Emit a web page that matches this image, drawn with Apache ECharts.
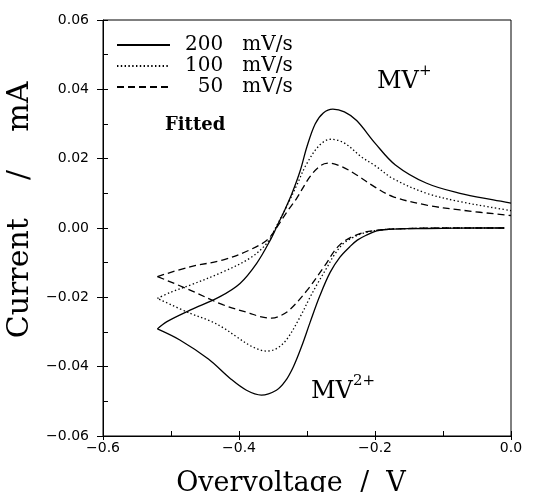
<!DOCTYPE html>
<html><head><meta charset="utf-8">
<script src="https://cdn.jsdelivr.net/npm/echarts@6/dist/echarts.min.js"></script>
<style>html,body{margin:0;padding:0;background:#fff}#c{width:534px;height:492px}</style>
</head><body><div id="c"></div>
<script>
// ---- data (Overvoltage / V, Current / mA) ----
const rateNames = ['200\u00a0\u00a0\u00a0mV/s', '100\u00a0\u00a0\u00a0mV/s', '\u00a0\u00a050\u00a0\u00a0\u00a0mV/s'];

const scan200Forward = [[-0.01,0],[-0.05,0],[-0.10,-0.0001],[-0.15,-0.0002],[-0.18,-0.0004],[-0.1975,-0.0008],[-0.212,-0.002],[-0.226,-0.0035],[-0.237,-0.0054],[-0.2515,-0.0084],[-0.266,-0.0128],[-0.281,-0.0195],[-0.2956,-0.0273],[-0.308,-0.0342],[-0.32,-0.0400],[-0.332,-0.0442],[-0.345,-0.0468],[-0.367,-0.0482],[-0.389,-0.0468],[-0.413,-0.0434],[-0.445,-0.0378],[-0.487,-0.0323],[-0.52,-0.0291]];
const scan200Return = [[-0.52,-0.0291],[-0.506,-0.027],[-0.472,-0.0237],[-0.428,-0.0198],[-0.3985,-0.016],[-0.374,-0.0102],[-0.354,-0.0035],[-0.343,0.001],[-0.332,0.0055],[-0.322,0.0100],[-0.31,0.0165],[-0.30,0.0235],[-0.288,0.0300],[-0.276,0.0332],[-0.262,0.0343],[-0.245,0.0335],[-0.227,0.031],[-0.2,0.0245],[-0.17,0.0182],[-0.124,0.0129],[-0.075,0.0100],[-0.026,0.0081],[0,0.0072]];

const scan100Forward = [[-0.01,0],[-0.1,0],[-0.16,-0.0002],[-0.19,-0.0005],[-0.217,-0.0015],[-0.232,-0.0027],[-0.2466,-0.0045],[-0.26,-0.0078],[-0.271,-0.0115],[-0.285,-0.0162],[-0.2956,-0.0200],[-0.31,-0.0256],[-0.33,-0.0322],[-0.345,-0.0348],[-0.359,-0.0355],[-0.38,-0.0343],[-0.4034,-0.0314],[-0.423,-0.0288],[-0.4426,-0.0268],[-0.472,-0.0246],[-0.52,-0.0203]];
const scan100Return = [[-0.52,-0.0203],[-0.50,-0.0185],[-0.472,-0.0165],[-0.423,-0.0126],[-0.384,-0.0087],[-0.359,-0.0044],[-0.345,0.0005],[-0.33,0.0062],[-0.3154,0.0122],[-0.3005,0.0185],[-0.281,0.0240],[-0.265,0.0256],[-0.245,0.0245],[-0.22,0.0205],[-0.2,0.018],[-0.173,0.0142],[-0.124,0.0100],[-0.075,0.0076],[-0.03,0.006],[0,0.005]];

const scan50Forward = [[-0.01,0],[-0.1,0],[-0.16,-0.0002],[-0.19,-0.0005],[-0.222,-0.0016],[-0.2515,-0.0048],[-0.275,-0.0112],[-0.30,-0.0180],[-0.325,-0.0235],[-0.34,-0.0254],[-0.352,-0.026],[-0.37,-0.0255],[-0.384,-0.0246],[-0.423,-0.0222],[-0.472,-0.0179],[-0.52,-0.014]];
const scan50Return = [[-0.52,-0.014],[-0.472,-0.0112],[-0.423,-0.0092],[-0.384,-0.0063],[-0.359,-0.0035],[-0.345,0.0],[-0.33,0.0045],[-0.3154,0.0085],[-0.2956,0.0148],[-0.28,0.0180],[-0.268,0.0187],[-0.25,0.0178],[-0.227,0.0153],[-0.2,0.0118],[-0.173,0.009],[-0.124,0.0066],[-0.075,0.0052],[0,0.0036]];

const xTickLabels = {'-6':'\u22120.6','-4':'\u22120.4','-2':'\u22120.2','0':'0.0'};
const yTickLabels = {'6':'0.06','4':'0.04','2':'0.02','0':'0.00','-2':'\u22120.02','-4':'\u22120.04','-6':'\u22120.06'};

const lineTypes = ['solid', [1.4, 2.4], [7, 4]];
const branches = [[scan200Forward, scan200Return],[scan100Forward, scan100Return],[scan50Forward, scan50Return]];

const chart = echarts.init(document.getElementById('c'), null, {renderer:'canvas'});
const series = [];
branches.forEach((pair, i) => {
  pair.forEach(d => series.push({
    name: rateNames[i], type:'line', data:d, xAxisIndex:0, yAxisIndex:0,
    showSymbol:false, symbol:'none', smooth:0.35, animation:false,
    itemStyle:{color:'#000'},
    lineStyle:{color:'#000', width:1.3, type:lineTypes[i]}
  }));
});

const serif = 'DejaVu Serif';
const tickFont = {fontFamily:'DejaVu Sans', fontSize:14, color:'#000'};
chart.setOption({
  animation:false,
  grid:{left:103, right:23, top:20, bottom:56, show:true, borderColor:'#000', borderWidth:1, outerBoundsMode:'none', containLabel:false},
  legend:{
    data:rateNames, orient:'vertical', left:111, top:30, itemWidth:53, itemHeight:12, itemGap:1,
    itemStyle:{color:'rgba(0,0,0,0)', borderColor:'rgba(0,0,0,0)', borderWidth:0},
    textStyle:{fontFamily:serif, fontSize:20, color:'#000', lineHeight:20, padding:[0,0,0,10]},
    selectedMode:false
  },
  xAxis:[{
    type:'value', min:-0.6, max:0, interval:0.2, position:'bottom',
    name:'Overvoltage\u00a0\u00a0/\u00a0\u00a0V', nameLocation:'middle', nameGap:34,
    nameTextStyle:{fontFamily:serif, fontSize:27, color:'#000', padding:[0,32,0,0]},
    axisLine:{onZero:false, lineStyle:{color:'#000', width:1}},
    axisTick:{inside:false, length:4, lineStyle:{color:'#000'}},
    axisLabel:{...tickFont, margin:5, formatter:v => xTickLabels[String(Math.round(v*10))] || ''},
    splitLine:{show:false}
  },{
    type:'value', min:-0.6, max:0, interval:0.1, position:'bottom', offset:0,
    axisLine:{show:false, onZero:false}, axisTick:{inside:true, length:5, lineStyle:{color:'#000'}},
    axisLabel:{show:false}, splitLine:{show:false}
  }],
  yAxis:[{
    type:'value', min:-0.06, max:0.06, interval:0.02, position:'left',
    name:'Current\u00a0\u00a0\u00a0\u00a0/\u00a0\u00a0\u00a0\u00a0mA', nameLocation:'middle', nameGap:62,
    nameTextStyle:{fontFamily:serif, fontSize:30, color:'#000', padding:[0,0,0,36]},
    axisLine:{onZero:false, lineStyle:{color:'#000', width:1}},
    axisTick:{inside:false, length:6, lineStyle:{color:'#000'}},
    axisLabel:{...tickFont, margin:14, formatter:v => yTickLabels[String(Math.round(v*100))] || ''},
    splitLine:{show:false}
  },{
    type:'value', min:-0.06, max:0.06, interval:0.01, position:'left', offset:0,
    axisLine:{show:false, onZero:false}, axisTick:{inside:true, length:5, lineStyle:{color:'#000'}},
    axisLabel:{show:false}, splitLine:{show:false}
  }],
  graphic:[
    {type:'text', x:377, y:70, style:{text:'MV', font:'24px "DejaVu Serif"', fill:'#000'}},
    {type:'text', x:419, y:64, style:{text:'+', font:'15px "DejaVu Serif"', fill:'#000'}},
    {type:'text', x:311, y:380, style:{text:'MV', font:'24px "DejaVu Serif"', fill:'#000'}},
    {type:'text', x:353, y:374, style:{text:'2+', font:'15px "DejaVu Serif"', fill:'#000'}},
    {type:'text', x:165, y:116, style:{text:'Fitted', font:'bold 18px "DejaVu Serif"', fill:'#000'}}
  ],
  series:series
});
</script></body></html>
